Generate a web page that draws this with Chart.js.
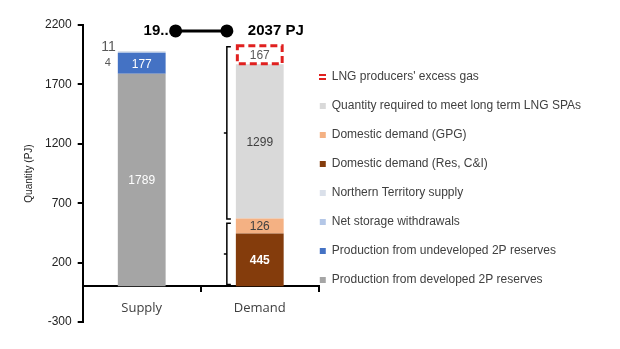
<!DOCTYPE html>
<html>
<head>
<meta charset="utf-8">
<script src="https://cdn.jsdelivr.net/npm/chart.js@4/dist/chart.umd.min.js"></script>
<style>
html, body { margin: 0; background: #fff; }
#wrap { width: 620px; height: 349px; }
</style>
</head>
<body>
<div id="wrap"><canvas id="chart-1" width="620" height="349"></canvas></div>
<script>
// categories and series (stack order, bottom to top)
const categories = ['Supply', 'Demand'];
const developed = [1789, 0];
const undeveloped = [177, 0];
const storage = [4, 0];
const ntSupply = [11, 0];
const resCI = [0, 445];
const gpg = [0, 126];
const lngSpa = [0, 1299];
const lngExcess = [0, 167];
const yTicks = [-300, 200, 700, 1200, 1700, 2200];
const supplyTotalLabel = '19..';
const demandTotalLabel = '2037 PJ';

const FONT = "'Liberation Sans', Arial, sans-serif";

// red "dashed" legend icon
const excessIcon = document.createElement('canvas');
excessIcon.width = 7;
excessIcon.height = 6;
(function () {
    const c = excessIcon.getContext('2d');
    c.fillStyle = '#e0201f';
    c.fillRect(0, 0, 7, 2);
    c.fillRect(0, 4, 7, 2);
})();

var datasets1 = [
    { label: 'Production from developed 2P reserves', data: developed, backgroundColor: '#a5a5a5', text: '#ffffff' },
    { label: 'Production from undeveloped 2P reserves', data: undeveloped, backgroundColor: '#4472c4', text: '#ffffff' },
    { label: 'Net storage withdrawals', data: storage, backgroundColor: '#b4c7e7', text: '#595959', outside: true },
    { label: 'Northern Territory supply', data: ntSupply, backgroundColor: '#dae0ea', text: '#595959', outside: true },
    { label: 'Domestic demand (Res, C&I)', data: resCI, backgroundColor: '#843c0c', text: '#ffffff', bold: true },
    { label: 'Domestic demand (GPG)', data: gpg, backgroundColor: '#f4b183', text: '#404040' },
    { label: 'Quantity required to meet long term LNG SPAs', data: lngSpa, backgroundColor: '#d9d9d9', text: '#404040' },
    { label: "LNG producers' excess gas", data: lngExcess, backgroundColor: '#ffffff', text: '#595959', dashed: true }
];

// value labels inside / beside the bar pieces
const valueLabels = {
    id: 'valueLabels',
    afterDatasetsDraw(chart) {
        const ctx = chart.ctx;
        ctx.save();
        ctx.textBaseline = 'middle';
        datasets1.forEach((ds, i) => {
            const meta = chart.getDatasetMeta(i);
            meta.data.forEach((bar, j) => {
                const v = ds.data[j];
                if (!v) return;
                if (ds.dashed) {
                    ctx.save();
                    ctx.strokeStyle = '#e0201f';
                    ctx.lineWidth = 3;
                    ctx.setLineDash([7, 4]);
                    ctx.strokeRect(bar.x - bar.width / 2 + 1.5, bar.y + 1.5, bar.width - 3, bar.base - bar.y - 2);
                    ctx.restore();
                }
                ctx.fillStyle = ds.text;
                if (ds.outside) {
                    ctx.textAlign = 'right';
                    const big = v > 9;
                    ctx.font = (big ? '14px ' : '11px ') + FONT;
                    const y = big ? bar.y - 4 : bar.y + 11;
                    ctx.fillText(String(v), bar.x - bar.width / 2 - (big ? 2 : 7), y);
                } else {
                    ctx.textAlign = 'center';
                    ctx.font = (ds.bold ? 'bold 12px ' : '12px ') + FONT;
                    ctx.fillText(String(v), bar.x, (bar.y + bar.base) / 2 + 1);
                }
            });
        });
        ctx.restore();
    }
};

// totals connector on top and braces beside the demand bar
const extras = {
    id: 'extras',
    afterLayout(chart) {
        // pull the legend a little closer to the plot, as in the original
        const lg = chart.legend;
        lg.left -= 16;
        lg.right -= 16;
        lg.top += 5;
        lg.bottom += 5;
    },
    afterDatasetsDraw(chart) {
        const ctx = chart.ctx;
        const y = chart.scales.y;
        const supply = chart.getDatasetMeta(0).data[0];
        const demand = chart.getDatasetMeta(7).data[1];
        const ty = y.getPixelForValue(2150);
        const x1 = supply.x + supply.width / 2 + 10;
        const x2 = demand.x - demand.width / 2 - 9;
        ctx.save();
        ctx.strokeStyle = '#000';
        ctx.fillStyle = '#000';
        ctx.lineWidth = 3;
        ctx.beginPath();
        ctx.moveTo(x1, ty);
        ctx.lineTo(x2, ty);
        ctx.stroke();
        [x1, x2].forEach(cx => {
            ctx.beginPath();
            ctx.arc(cx, ty, 6.5, 0, Math.PI * 2);
            ctx.fill();
        });
        ctx.font = 'bold 15px ' + FONT;
        ctx.textBaseline = 'middle';
        ctx.textAlign = 'right';
        ctx.fillText(supplyTotalLabel, x1 - 7, ty);
        ctx.textAlign = 'left';
        ctx.fillText(demandTotalLabel, x2 + 21, ty);

        // braces
        const bx = demand.x - demand.width / 2 - 9;
        const brace = (v0, v1) => {
            const top = y.getPixelForValue(v1);
            const bot = y.getPixelForValue(v0);
            const mid = (top + bot) / 2;
            ctx.beginPath();
            ctx.moveTo(bx + 4, top);
            ctx.lineTo(bx, top);
            ctx.lineTo(bx, bot);
            ctx.lineTo(bx + 4, bot);
            ctx.moveTo(bx, mid);
            ctx.lineTo(bx - 3, mid);
            ctx.stroke();
        };
        ctx.lineWidth = 1.5;
        const domestic = resCI[1] + gpg[1];
        brace(domestic - 5, lngSpa[1] + lngExcess[1] + domestic - 20);
        brace(15, domestic - 40);
        ctx.restore();
    }
};

new Chart(document.getElementById('chart-1'), {
    type: 'bar',
    data: {
        labels: categories,
        datasets: datasets1.map(d => ({
            label: d.label,
            data: d.data,
            backgroundColor: d.backgroundColor,
            borderWidth: 0,
            barPercentage: 0.405,
            categoryPercentage: 1
        }))
    },
    options: {
        responsive: false,
        animation: false,
        layout: { padding: { left: 23, top: 25, bottom: 27, right: 13 } },
        scales: {
            x: {
                stacked: true,
                position: { y: 0 },
                offset: true,
                border: { color: '#000', width: 2 },
                grid: { display: true, drawOnChartArea: false, offset: true, color: '#000', lineWidth: 2, tickLength: 5 },
                ticks: { color: '#404040', font: { family: "'Open Sans', sans-serif", size: 13 }, padding: 9 }
            },
            y: {
                stacked: true,
                min: -300,
                max: 2200,
                afterBuildTicks: s => { s.ticks = yTicks.map(v => ({ value: v })); },
                border: { color: '#000', width: 2 },
                grid: { display: true, drawOnChartArea: false, color: '#000', lineWidth: 2, tickLength: 5 },
                ticks: { color: '#222', font: { family: FONT, size: 12 }, padding: 6, callback: v => String(v) },
                title: { display: true, text: 'Quantity (PJ)', color: '#222', font: { family: FONT, size: 10 }, padding: { top: 0, bottom: 4 } }
            }
        },
        plugins: {
            tooltip: { enabled: false },
            legend: {
                position: 'right',
                reverse: true,
                maxWidth: 400,
                labels: {
                    color: '#404040',
                    font: { family: FONT, size: 12 },
                    usePointStyle: true,
                    boxWidth: 6,
                    boxHeight: 6,
                    padding: 17,
                    generateLabels(chart) {
                        const items = Chart.defaults.plugins.legend.labels.generateLabels(chart);
                        items.forEach(it => {
                            it.pointStyle = datasets1[it.datasetIndex].dashed ? excessIcon : 'rect';
                            it.lineWidth = 0;
                        });
                        return items;
                    }
                }
            }
        }
    },
    plugins: [valueLabels, extras]
});
</script>
</body>
</html>
